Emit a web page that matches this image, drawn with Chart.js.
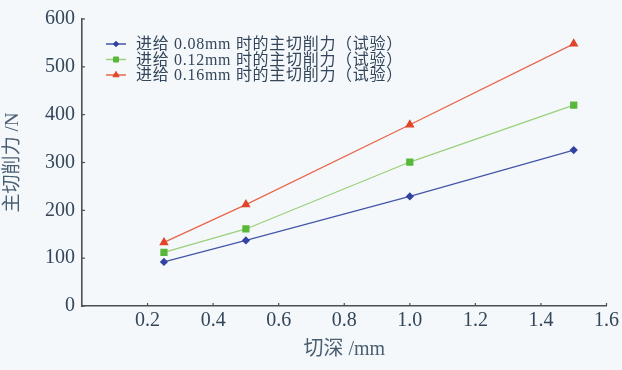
<!DOCTYPE html>
<html><head><meta charset="utf-8">
<script src="https://cdn.jsdelivr.net/npm/chart.js@4/dist/chart.umd.min.js"></script>
<style>html,body{margin:0;padding:0;background:#f4f8fb;}#wrap{width:622px;height:370px;}</style>
</head><body><div id="wrap"><canvas id="c" width="622" height="370"></canvas></div>
<script>
const depths = [0.25, 0.5, 1.0, 1.5];
const seriesLabels = ['进给 0.08mm 时的主切削力（试验）', '进给 0.12mm 时的主切削力（试验）', '进给 0.16mm 时的主切削力（试验）'];
const force008 = [92, 137, 229, 326];
const force012 = [112, 161, 301, 420];
const force016 = [133, 212, 379, 548];
const xTicks = [0.2, 0.4, 0.6, 0.8, 1.0, 1.2, 1.4, 1.6];
const yTicks = [0, 100, 200, 300, 400, 500, 600];
const xTitle = '切深 /mm';
const yTitle = '主切削力 /N';

const serif = "'Liberation Serif','Noto Sans CJK SC',serif";
const textCol = '#33465a';
const titleCol = '#4a5e72';
const axisCol = '#4a4f55';
const styles = [
  {line:'#4456a8', pt:'#3343a0', style:'rectRot', r:3.2},
  {line:'#9bd07a', pt:'#57b83a', style:'rect', r:4.2},
  {line:'#e8664a', pt:'#e0452a', style:'triangle', r:4.2}
];
const allSeries = [force008, force012, force016];
const datasets = allSeries.map((vals, i) => ({
  label: seriesLabels[i],
  data: depths.map((d, j) => ({x: d, y: vals[j]})),
  borderColor: styles[i].line,
  backgroundColor: styles[i].pt,
  pointBackgroundColor: styles[i].pt,
  pointBorderColor: styles[i].pt,
  pointStyle: styles[i].style,
  pointRadius: styles[i].r,
  borderWidth: 1.3,
  tension: 0
}));

const bgPlugin = {
  id: 'bg',
  beforeDraw(chart) {
    const ctx = chart.ctx;
    ctx.save(); ctx.fillStyle = '#f4f8fb';
    ctx.fillRect(0, 0, chart.width, chart.height); ctx.restore();
  }
};
const tickMarks = {
  id: 'tickMarks',
  afterDraw(chart) {
    const ctx = chart.ctx, xs = chart.scales.x, ys = chart.scales.y, a = chart.chartArea;
    ctx.save(); ctx.strokeStyle = axisCol; ctx.lineWidth = 1.2;
    xTicks.forEach(v => { const p = xs.getPixelForValue(v); ctx.beginPath(); ctx.moveTo(p, a.bottom); ctx.lineTo(p, a.bottom - 3); ctx.stroke(); });
    yTicks.forEach(v => { const p = ys.getPixelForValue(v); ctx.beginPath(); ctx.moveTo(a.left, p); ctx.lineTo(a.left + 3, p); ctx.stroke(); });
    ctx.restore();
  }
};
const legendPlugin = {
  id: 'inLegend',
  afterDraw(chart) {
    const ctx = chart.ctx;
    ctx.save();
    chart.data.datasets.forEach((ds, i) => {
      const y = 44 + i * 15.5;
      ctx.strokeStyle = ds.borderColor; ctx.lineWidth = 1.5;
      ctx.beginPath(); ctx.moveTo(106, y); ctx.lineTo(126, y); ctx.stroke();
      ctx.fillStyle = ds.pointBackgroundColor; ctx.strokeStyle = ds.pointBorderColor; ctx.lineWidth = 1;
      Chart.helpers.drawPoint(ctx, {pointStyle: ds.pointStyle, radius: ds.pointRadius * 0.85, borderWidth: 1}, 116, y);
      ctx.fillStyle = textCol;
      ctx.font = "16px " + serif;
      ctx.letterSpacing = '0.7px';
      ctx.textBaseline = 'middle';
      ctx.fillText(ds.label, 136, y + 1);
    });
    ctx.restore();
  }
};

new Chart(document.getElementById('c'), {
  type: 'line',
  data: { datasets },
  plugins: [bgPlugin, tickMarks, legendPlugin],
  options: {
    responsive: false,
    animation: false,
    layout: { padding: { top: 8, right: 2, left: 0, bottom: 0 } },
    plugins: { legend: { display: false }, tooltip: { enabled: false } },
    scales: {
      x: {
        type: 'linear', min: 0, max: 1.6,
        afterBuildTicks(s) { s.ticks = xTicks.map(v => ({value: v})); },
        afterFit(s) { s.height = 64; },
        ticks: { color: textCol, font: { family: serif, size: 20 }, padding: 3,
          callback: v => v.toFixed(1) },
        grid: { display: true, drawOnChartArea: false, drawTicks: false },
        border: { color: axisCol, width: 1.6 },
        title: { display: true, text: xTitle, color: titleCol, font: { family: serif, size: 20 }, padding: { top: 0, bottom: 8 } }
      },
      y: {
        min: 0, max: 600,
        afterBuildTicks(s) { s.ticks = yTicks.map(v => ({value: v})); },
        afterFit(s) { s.width = 82; },
        ticks: { color: textCol, font: { family: serif, size: 20 }, padding: 7 },
        grid: { display: true, drawOnChartArea: false, drawTicks: false },
        border: { color: axisCol, width: 1.6 },
        title: { display: true, text: yTitle, color: titleCol, font: { family: serif, size: 19 }, padding: { top: 2, bottom: 0 } }
      }
    }
  }
});
</script>
</body></html>
